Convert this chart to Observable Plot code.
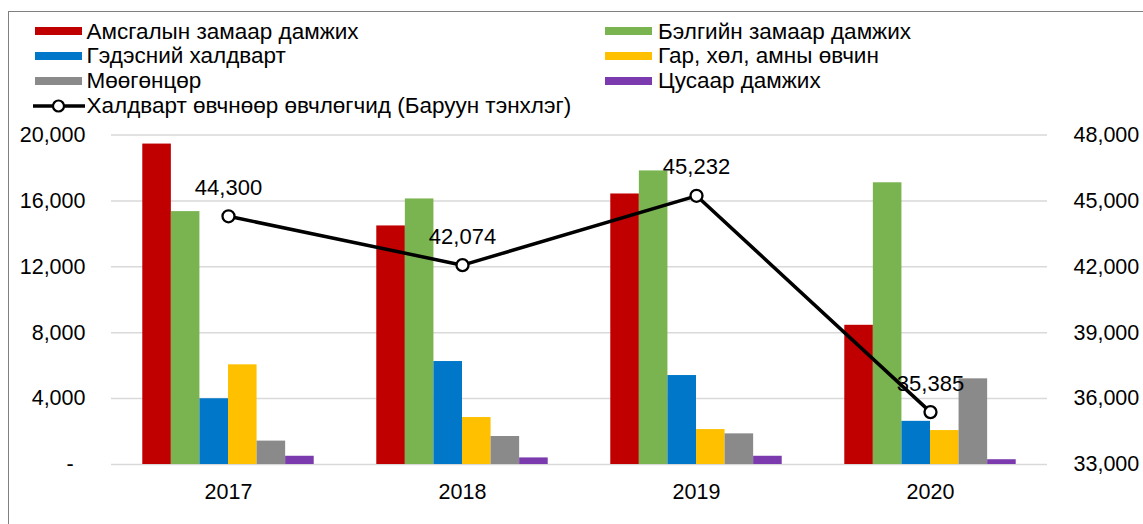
<!DOCTYPE html>
<html><head><meta charset="utf-8">
<script src="https://cdn.jsdelivr.net/npm/d3@7"></script>
<script src="https://cdn.jsdelivr.net/npm/@observablehq/plot@0.6"></script>
<style>
body{margin:0;overflow:hidden;background:#fff;font-family:"Liberation Sans",Arial,sans-serif;}
#wrap{position:relative;width:1143px;height:524px;overflow:hidden;}
#frame{position:absolute;left:8px;top:10.5px;width:1300px;height:700px;border:1px solid #808080;box-sizing:border-box;}
#legend{position:relative;height:118px;}
.sw{position:absolute;height:8px;width:47px;}
.tx{position:absolute;font-size:22.5px;line-height:1;color:#000;white-space:nowrap;transform:translateY(-50%);}
#chart{position:relative;}
#chart svg{display:block;}
</style>
</head><body>
<div id="wrap"><div id="frame"></div><div id="legend"></div><div id="chart"></div></div>
<script>
const years = ["2017", "2018", "2019", "2020"];
const seriesNames = ["Амсгалын замаар дамжих", "Бэлгийн замаар дамжих", "Гэдэсний халдварт", "Гар, хөл, амны өвчин", "Мөөгөнцөр", "Цусаар дамжих"];
const seriesColors = ["#C00000", "#7AB450", "#0077C8", "#FFC000", "#8A8A8A", "#7B3BAF"];
const airborne = [19450, 14480, 16420, 8450];
const sexual = [15350, 16120, 17820, 17100];
const intestinal = [3990, 6250, 5400, 2620];
const handFootMouth = [6050, 2850, 2120, 2060];
const fungal = [1420, 1700, 1860, 5200];
const bloodborne = [500, 400, 500, 290];
const lineName = "Халдварт өвчнөөр өвчлөгчид (Баруун тэнхлэг)";
const patients = [44300, 42074, 45232, 35385];
const leftTicks = [0, 4000, 8000, 12000, 16000, 20000];
const rightTicks = [33000, 36000, 39000, 42000, 45000, 48000];

const seriesValues = [airborne, sexual, intestinal, handFootMouth, fungal, bloodborne];
const fmt = d3.format(",");
const rMin = 33000, rMax = 48000, lMax = 20000;
const toLeft = v => (v - rMin) / (rMax - rMin) * lMax;
const toRight = v => Math.round(v / lMax * (rMax - rMin) + rMin);

const barW = 0.1221;
const bars = [];
seriesValues.forEach((vals, k) => vals.forEach((v, i) => {
  const x1 = i - 3 * barW + k * barW;
  bars.push({series: seriesNames[k], k, yi: i, x1, x2: x1 + barW, value: v});
}));
const line = patients.map((v, i) => ({yi: i, v}));

// legend
const legend = document.getElementById("legend");
const rowsY = [31.5, 56.3, 81.1, 105.9];
const cols = [{sw: 35, tx: 86.5}, {sw: 605, tx: 658}];
seriesNames.forEach((name, k) => {
  const c = cols[k % 2], y = rowsY[Math.floor(k / 2)];
  const s = document.createElement("div");
  s.className = "sw"; s.style.left = c.sw + "px"; s.style.top = (y - 4.5) + "px"; s.style.background = seriesColors[k];
  legend.appendChild(s);
  const t = document.createElement("div");
  t.className = "tx"; t.style.left = c.tx + "px"; t.style.top = y + "px"; t.textContent = name;
  legend.appendChild(t);
});
{
  const y = rowsY[3];
  const s = document.createElementNS("http://www.w3.org/2000/svg", "svg");
  s.setAttribute("width", 54); s.setAttribute("height", 16);
  s.style.position = "absolute"; s.style.left = "32px"; s.style.top = (y - 8) + "px";
  s.innerHTML = '<line x1="1" x2="53" y1="8" y2="8" stroke="black" stroke-width="3.5"/><circle cx="26.5" cy="8" r="5.5" fill="white" stroke="black" stroke-width="2.2"/>';
  legend.appendChild(s);
  const t = document.createElement("div");
  t.className = "tx"; t.style.left = "86.5px"; t.style.top = y + "px"; t.textContent = lineName;
  legend.appendChild(t);
}

const chart = Plot.plot({
  width: 1143, height: 406,
  marginLeft: 111, marginRight: 96, marginTop: 16.5, marginBottom: 60,
  style: {fontFamily: "'Liberation Sans', Arial, sans-serif", fontSize: "21.5px", color: "#000", background: "transparent", overflow: "visible"},
  x: {type: "linear", domain: [-0.5, 3.5]},
  y: {domain: [0, lMax]},
  color: {domain: seriesNames, range: seriesColors},
  marks: [
    Plot.ruleY(leftTicks, {stroke: "#d9d9d9", strokeWidth: 1.5}),
    Plot.rectY(bars, {x1: "x1", x2: "x2", y1: 0, y2: "value", fill: "series"}),
    Plot.line(line, {x: "yi", y: d => toLeft(d.v), stroke: "#000", strokeWidth: 3.5}),
    Plot.dot(line, {x: "yi", y: d => toLeft(d.v), r: 6, fill: "#fff", stroke: "#000", strokeWidth: 2.3}),
    Plot.text(line, {x: "yi", y: d => toLeft(d.v), text: d => fmt(d.v), dy: -28.5, fontSize: 22, fill: "#000"}),
    Plot.axisY(leftTicks, {anchor: "left", tickSize: 0, tickPadding: 26, fontSize: 21.5, label: null,
      tickFormat: d => d === 0 ? "-\u00a0\u00a0" : fmt(d)}),
    Plot.axisY(rightTicks.map(toLeft), {anchor: "right", tickSize: 0, tickPadding: 26, fontSize: 21.5, label: null,
      tickFormat: d => fmt(toRight(d))}),
    Plot.axisX([0, 1, 2, 3], {anchor: "bottom", tickSize: 0, tickPadding: 19, fontSize: 21.5, label: null,
      tickFormat: i => years[i]})
  ]
});
document.getElementById("chart").appendChild(chart);
</script>
</body></html>
